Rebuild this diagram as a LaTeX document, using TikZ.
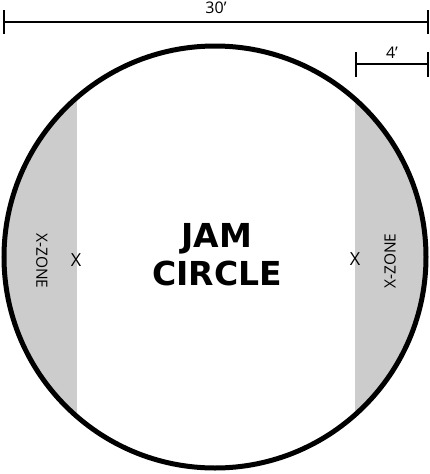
\documentclass[tikz,border=0pt]{standalone}
\usepackage{fontspec}
\setmainfont{Open Sans}
\newfontfamily\titlefont{DejaVu Sans}
\definecolor{zonegray}{RGB}{204, 204, 204}
\usepackage{tikz}
\usetikzlibrary{positioning, calc}

\begin{document}
\begin{tikzpicture}[
  x=1pt, y=-1pt,
  dim/.style={line width=1.2pt},
  dimlabel/.style={font=\fontsize{16}{18}\selectfont, inner sep=0pt},
  zonelabel/.style={font=\fontsize{15.5}{17}\selectfont, inner sep=0pt},
  xmark/.style={font=\fontsize{18}{20}\selectfont, inner sep=0pt}
]
  \useasboundingbox (0, 0) rectangle (430, 474);
  \coordinate (c) at (215, 257);

  % shaded zones inside the circle
  \begin{scope}
    \clip (c) circle (211);
    \fill[zonegray] (0, 0) rectangle (77, 474);
    \fill[zonegray] (355, 0) rectangle (430, 474);
  \end{scope}
  \draw[line width=5pt] (c) circle (211);

  % overall width
  \coordinate (wl) at (4, 22);
  \coordinate (wr) at (428, 22);
  \draw[dim] (wl) -- (wr)
    node[midway, above=8pt, dimlabel] (wlab) {30’};
  \draw[dim] ($(wl)+(0,-12)$) -- ($(wl)+(0,12)$);
  \draw[dim] ($(wr)+(0,-12)$) -- ($(wr)+(0,12)$);

  % zone width
  \coordinate (zl) at (356, 64);
  \coordinate (zr) at (428, 64);
  \draw[dim] (zl) -- (zr)
    node[midway, above=5pt, dimlabel] (zlab) {4’};
  \draw[dim] ($(zl)+(0,-12)$) -- ($(zl)+(0,13)$);
  \draw[dim] ($(zr)+(0,-12)$) -- ($(zr)+(0,13)$);

  \node[font=\titlefont\fontsize{33}{38}\selectfont\bfseries, align=center] (title) at (217, 255) {JAM\\CIRCLE};

  \node[zonelabel, rotate=-90] (lzone) at (42, 261) {X-ZONE};
  \node[zonelabel, rotate=90] (rzone) at (390, 261) {X-ZONE};
  \node[xmark] (lx) at (76, 260) {X};
  \node[xmark] (rx) at (355, 259) {X};
\end{tikzpicture}
\end{document}
